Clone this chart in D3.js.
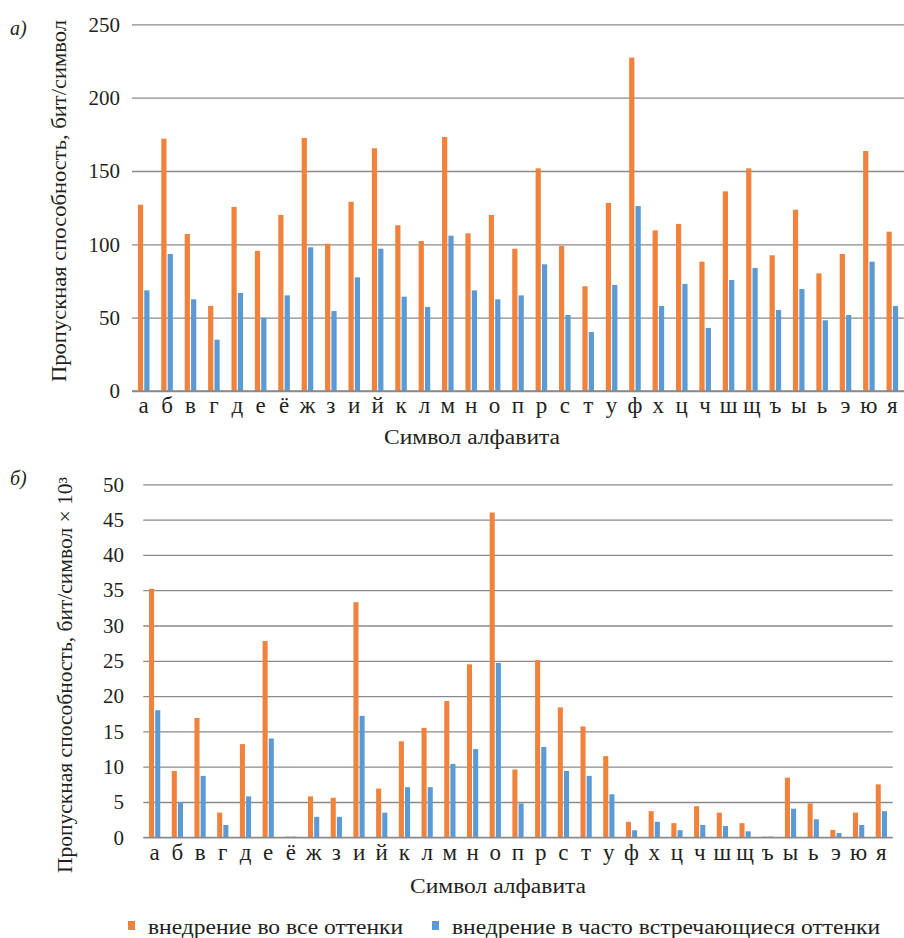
<!DOCTYPE html>
<html>
<head>
<meta charset="utf-8">
<script src="https://cdn.jsdelivr.net/npm/d3@7"></script>
<style>
  body { margin: 0; background: #fff; }
  text { font-family: "Liberation Serif", "DejaVu Serif", serif; fill: #231f20; }
</style>
</head>
<body>
<svg id="chart" width="904" height="938"></svg>
<script>
const letters = ["а","б","в","г","д","е","ё","ж","з","и","й","к","л","м","н","о","п","р","с","т","у","ф","х","ц","ч","ш","щ","ъ","ы","ь","э","ю","я"]
const seriesNames = ["внедрение во все оттенки", "внедрение в часто встречающиеся оттенки"]
const colors = ["#f0823c", "#5a9bd6"]

// a) бит/символ
const allA = [127,172,107,58,125.5,95.5,120,172.5,100.4,129,165.5,113,102.3,173.2,107.5,120,97,151.8,98.9,71.4,128.2,227.3,109.5,113.9,88.2,136.1,151.8,92.5,123.6,80.2,93.4,163.6,108.6]
const freqA = [68.6,93.4,62.5,35,66.8,50,65.2,98,54.5,77.5,97,64.3,57.3,105.9,68.6,62.5,65.2,86.4,51.8,40.2,72.3,126.1,58,73,43,75.7,83.9,55.2,69.5,48.2,51.8,88.2,58]
const ticksA = [0,50,100,150,200,250]

// б) бит/символ × 10^3
const allB = [35.2,9.4,16.9,3.5,13.2,27.8,0.1,5.8,5.6,33.3,6.9,13.6,15.5,19.3,24.5,46.0,9.6,25.1,18.4,15.7,11.5,2.2,3.7,2.0,4.4,3.5,2.0,0.1,8.45,4.8,1.05,3.5,7.5]
const freqB = [18.0,5.0,8.7,1.75,5.8,14.0,0.1,2.9,2.9,17.2,3.5,7.1,7.1,10.4,12.5,24.7,4.8,12.8,9.4,8.7,6.1,1.0,2.2,1.0,1.75,1.6,0.85,0.1,4.05,2.55,0.6,1.75,3.7]
const ticksB = [0,5,10,15,20,25,30,35,40,45,50]

const FONT = "'Liberation Serif', 'DejaVu Serif', serif"
const svg = d3.select("#chart")

function drawPanel(opts) {
  const x = d3.scaleBand().domain(letters).range([opts.left, opts.right])
  const x1 = d3.scaleBand().domain([0, 1]).range([0, x.bandwidth()])
    .paddingInner(0.18).paddingOuter(0.93)
  const y = d3.scaleLinear().domain([0, opts.max]).range([opts.bottom, opts.top])

  const g = svg.append("g")

  // grid
  g.append("g")
    .attr("transform", `translate(${opts.left},0)`)
    .call(d3.axisLeft(y).tickValues(opts.ticks).tickSize(-(opts.right - opts.left)).tickFormat(""))
    .call(a => a.select(".domain").remove())
    .selectAll("line").attr("stroke", "#8a8a8a").attr("stroke-width", 1.3)

  // y labels
  g.append("g")
    .attr("transform", `translate(${opts.labelX},0)`)
    .call(d3.axisLeft(y).tickValues(opts.ticks).tickSize(0).tickPadding(0))
    .call(a => a.select(".domain").remove())
    .selectAll("text").style("font-size", "21px").attr("fill", "#231f20")
    .style("font-family", FONT)

  const sets = [opts.all, opts.freq]
  sets.forEach((vals, si) => {
    g.append("g").selectAll("rect")
      .data(vals)
      .join("rect")
      .attr("x", (d, i) => x(letters[i]) + x1(si))
      .attr("width", x1.bandwidth())
      .attr("y", d => y(d))
      .attr("height", d => opts.bottom - y(d))
      .attr("fill", colors[si])
  })

  // baseline
  g.append("line")
    .attr("x1", opts.left).attr("x2", opts.right)
    .attr("y1", y(0)).attr("y2", y(0))
    .attr("stroke", "#8a8a8a").attr("stroke-width", 1.3)

  // x labels
  g.append("g")
    .attr("transform", `translate(0,${opts.bottom})`)
    .call(d3.axisBottom(x).tickSize(0).tickPadding(6))
    .call(a => a.select(".domain").remove())
    .selectAll("text").style("font-size", "23px").attr("fill", "#231f20")
    .style("font-family", FONT)

  // axis titles
  g.append("text")
    .attr("x", opts.xTitleX).attr("y", opts.xTitleY)
    .attr("text-anchor", "middle")
    .style("font-size", "20px")
    .attr("textLength", 176).attr("lengthAdjust", "spacingAndGlyphs")
    .text("Символ алфавита")

  g.append("text")
    .attr("transform", `translate(${opts.yTitleX},${opts.yTitleY}) rotate(-90)`)
    .attr("text-anchor", "middle")
    .style("font-size", "20px")
    .attr("textLength", opts.yTitleLen).attr("lengthAdjust", "spacingAndGlyphs")
    .text(opts.yTitle)

  g.append("text")
    .attr("x", 10).attr("y", opts.tagY)
    .style("font-size", "20px").style("font-style", "italic")
    .text(opts.tag)
}

drawPanel({
  left: 132, right: 904, top: 24.3, bottom: 391, max: 250, ticks: ticksA,
  all: allA, freq: freqA, labelX: 120,
  xTitleX: 472, xTitleY: 444, yTitleX: 66, yTitleY: 201, yTitleLen: 362,
  yTitle: "Пропускная способность, бит/символ", tag: "а)", tagY: 35
})

drawPanel({
  left: 143.3, right: 892.7, top: 484.3, bottom: 837.3, max: 50, ticks: ticksB,
  all: allB, freq: freqB, labelX: 124,
  xTitleX: 498, xTitleY: 893, yTitleX: 72, yTitleY: 675, yTitleLen: 396,
  yTitle: "Пропускная способность, бит/символ × 10³", tag: "б)", tagY: 485
})

// legend
const legend = svg.append("g").attr("transform", "translate(0,928)")
const legendX = [128, 432]
seriesNames.forEach((name, i) => {
  legend.append("rect")
    .attr("x", legendX[i]).attr("y", -7).attr("width", 7).attr("height", 9)
    .attr("fill", colors[i])
  legend.append("text")
    .attr("x", legendX[i] + 20).attr("y", 0).attr("dy", "0.32em")
    .style("font-size", "20px")
    .attr("textLength", i === 0 ? 255 : 428).attr("lengthAdjust", "spacingAndGlyphs")
    .text(name)
})
</script>
</body>
</html>
